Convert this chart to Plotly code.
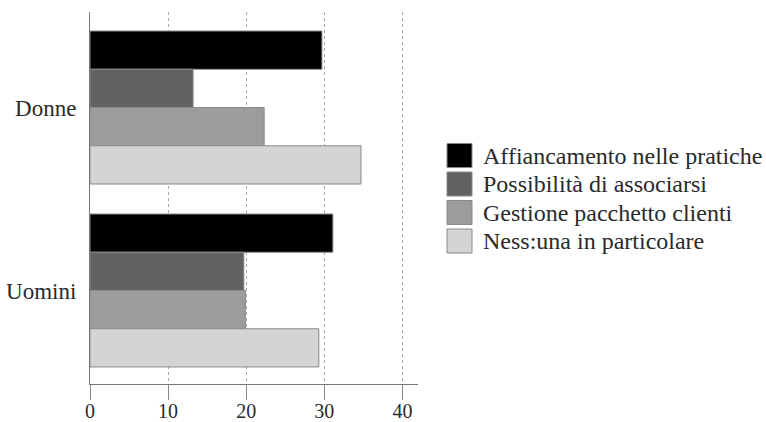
import plotly.graph_objects as go

categories = ["Donne", "Uomini"]
series_names = ["Affiancamento nelle pratiche", "Possibilità di associarsi",
                "Gestione pacchetto clienti", "Ness:una in particolare"]
affiancamento = [29.7, 31.1]
possibilita = [13.2, 19.7]
gestione = [22.3, 19.9]
nessuna = [34.7, 29.3]
x_ticks = [0, 10, 20, 30, 40]

values = [affiancamento, possibilita, gestione, nessuna]
colors = ["#000000", "#626262", "#9c9c9c", "#d4d4d4"]
FONT = "Liberation Serif"
TXT = "#2a2a2a"

W, H = 766, 422
L, T = 90, 12
R = W - 418
B = H - 384
pw = W - L - R
ph = H - T - B

def px(x):
    return (x - L) / pw

def py(y):
    return 1 - (y - T) / ph

fig = go.Figure()
for name, vals, col in zip(series_names, values, colors):
    fig.add_trace(go.Bar(y=categories, x=vals, name=name, orientation="h",
                         marker=dict(color=col, line=dict(color="#8a8a8a", width=1)),
                         showlegend=False))

# manual legend (large squares as in reference)
shapes = []
annotations = []
for i, (name, col) in enumerate(zip(series_names, colors)):
    yc = 155.5 + i * 28.5
    shapes.append(dict(type="rect", xref="paper", yref="paper",
                       x0=px(447), x1=px(472), y0=py(yc - 12), y1=py(yc + 12),
                       fillcolor=col, line=dict(color="#8a8a8a", width=1)))
    annotations.append(dict(xref="paper", yref="paper", x=px(481), y=py(yc),
                            text=name, showarrow=False, xanchor="left", yanchor="middle",
                            font=dict(family=FONT, size=24, color=TXT)))

fig.update_layout(
    width=W, height=H,
    margin=dict(l=L, r=R, t=T, b=B, autoexpand=False),
    paper_bgcolor="white", plot_bgcolor="white",
    barmode="group", bargap=0.164, bargroupgap=0,
    font=dict(family=FONT, size=21, color=TXT),
    shapes=shapes, annotations=annotations,
    xaxis=dict(range=[0, 42], tickvals=x_ticks, showgrid=True, automargin=False,
               gridcolor="#a8a8a8", griddash="dot", gridwidth=1,
               showline=True, linecolor="#777", linewidth=1,
               ticks="outside", ticklen=15, tickcolor="#888", zeroline=False,
               ticklabelstandoff=-6, tickfont=dict(size=20)),
    yaxis=dict(range=[1.511, -0.522], showline=True, linecolor="#777", linewidth=1,
               ticks="", ticklabelstandoff=8, showgrid=False, automargin=False,
               tickfont=dict(size=23)),
)

fig.write_html("out.html", config={"displayModeBar": False},
               post_script="document.body.style.margin='0px';document.body.style.overflow='hidden';")
